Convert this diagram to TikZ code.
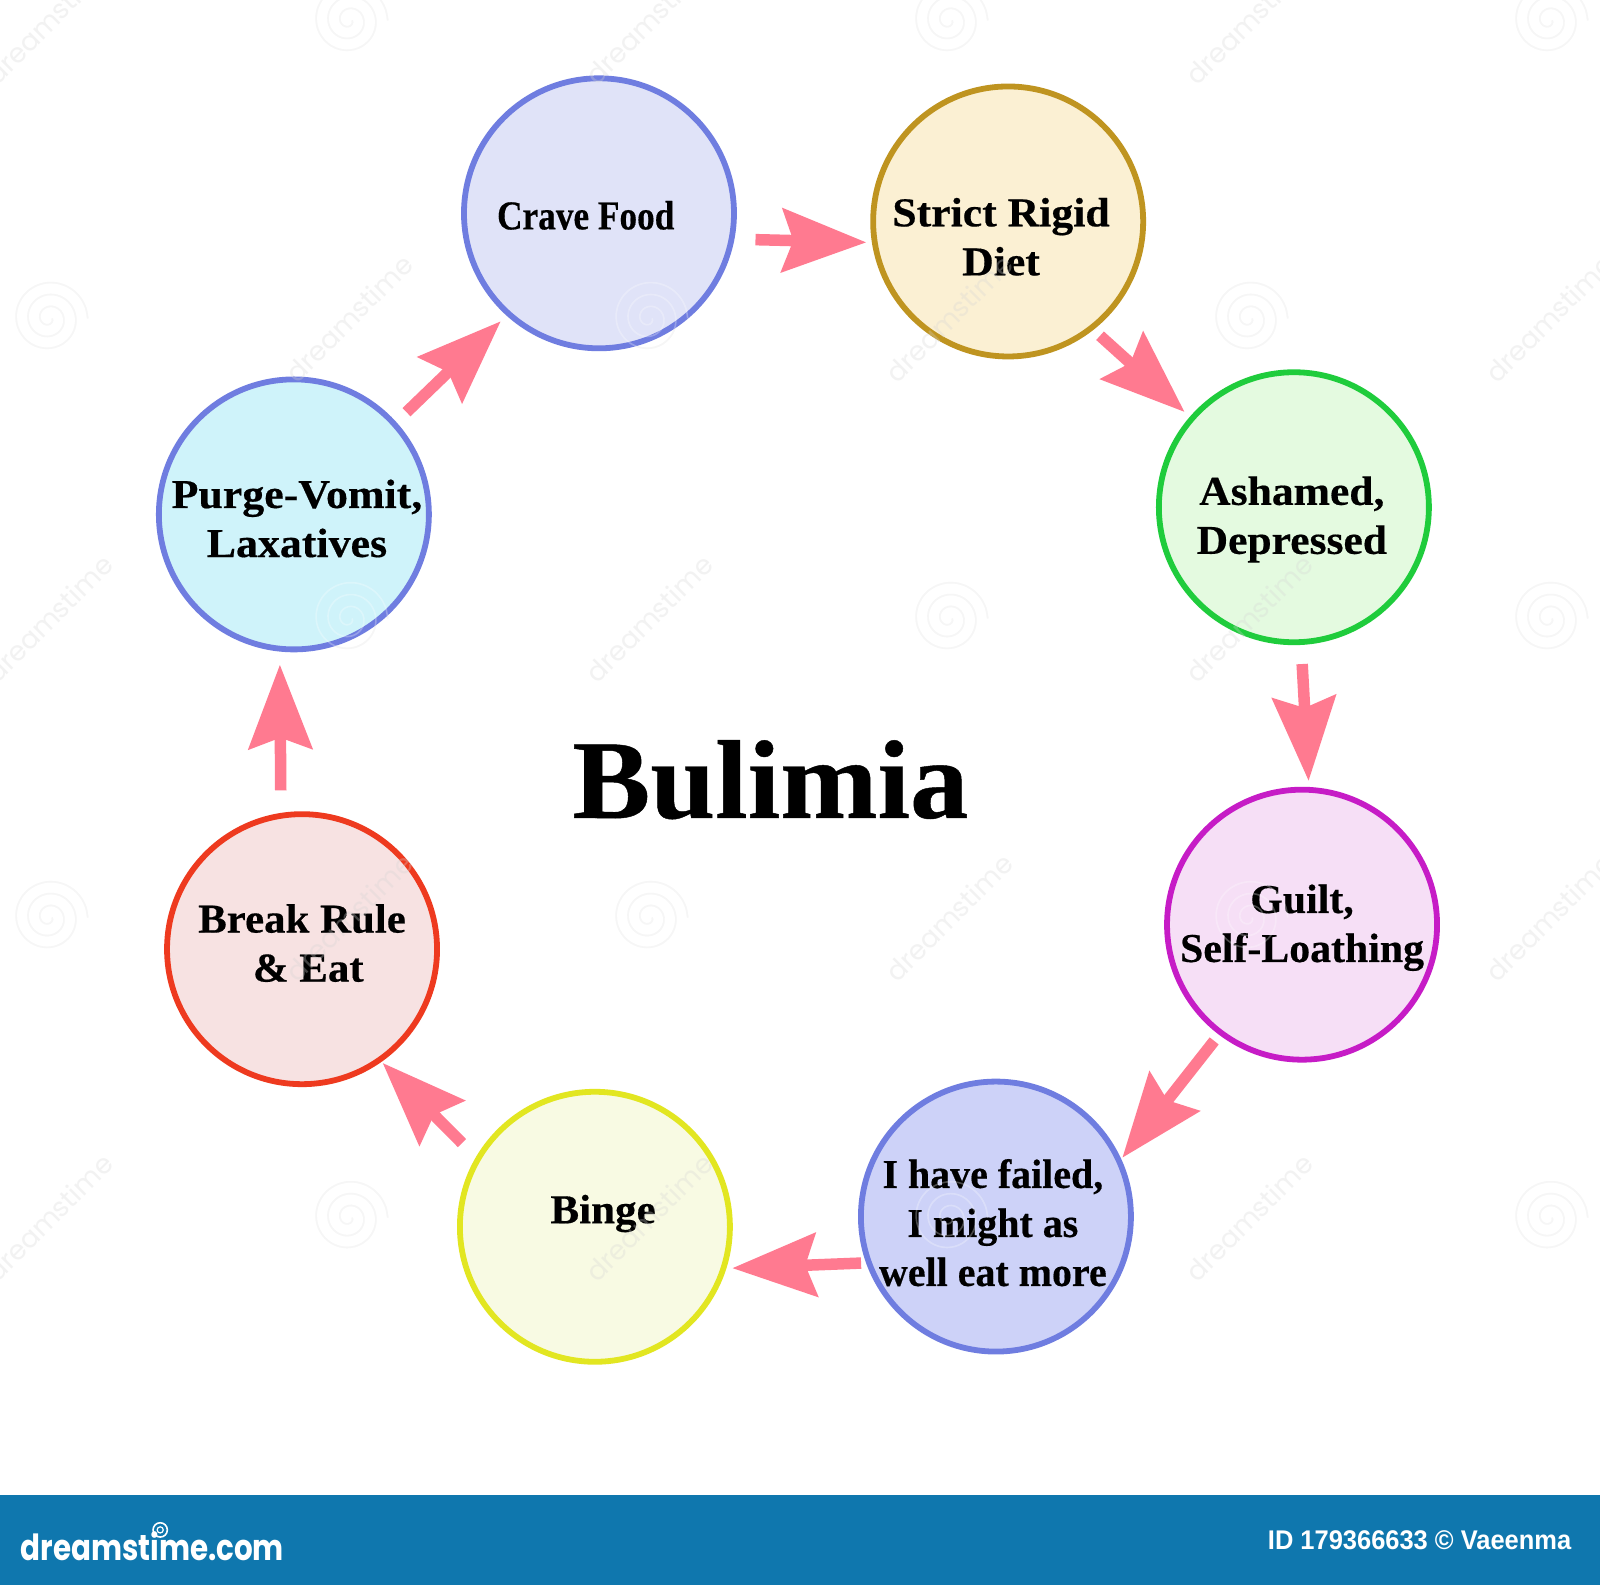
\documentclass[tikz,border=0pt]{standalone}
\usepackage{fontspec}
\setmainfont[BoldFeatures={FakeBold=0.4}]{Liberation Serif}
\newfontfamily\barfont{Liberation Sans}
\newfontfamily\logofont{Poppins}
\usetikzlibrary{arrows.meta}
\definecolor{flowpink}{HTML}{FF7A90}
\definecolor{barblue}{HTML}{0F77AE}
\definecolor{wmgray}{HTML}{8A8A8A}
\definecolor{wmword}{HTML}{D4D4D4}
\definecolor{edgeblue}{HTML}{6F7DE0}
\definecolor{fillcrave}{HTML}{E0E3F8}
\definecolor{edgestrict}{HTML}{BF9420}
\definecolor{fillstrict}{HTML}{FBF0D3}
\definecolor{edgeashamed}{HTML}{1FCC3C}
\definecolor{fillashamed}{HTML}{E4FAE0}
\definecolor{edgeguilt}{HTML}{C61CC6}
\definecolor{fillguilt}{HTML}{F6DFF6}
\definecolor{fillfailed}{HTML}{CDD2F8}
\definecolor{edgebinge}{HTML}{E2E621}
\definecolor{fillbinge}{HTML}{F8FAE3}
\definecolor{edgebreak}{HTML}{EE3A1F}
\definecolor{fillbreak}{HTML}{F7E2E2}
\definecolor{fillpurge}{HTML}{CFF3FA}
\tikzset{
  x=1.0204pt, y=-1.0206pt,
  stage/.style={circle, minimum size=270pt, inner sep=0pt, outer sep=0pt, line width=5.8pt},
  lbl/.style={font=\fontsize{41}{49}\selectfont\bfseries, align=center, inner sep=0pt, text=black, xscale=#1, transform shape},
  flow/.style={draw=flowpink, line width=11.5pt, -{Stealth[length=84pt,width=63pt,inset=11pt,fill=flowpink]}},
}
\newcommand{\flowlink}[6]{\draw[flow, shorten <=#3pt, shorten >=#6pt] (#1.#2) -- (#4.#5);}
% background pattern: spirals and rotated words
\newcommand{\wmspiral}[3]{\draw[#3, opacity=\wmop, line width=1.6pt] plot[smooth, domain=0:1080, samples=70]
   ({#1+(3+\x/1080*35)*cos(\x)}, {#2+(3+\x/1080*35)*sin(\x)});}
\newcommand{\wmtext}[2]{\node[text=wmword, opacity=0.3, rotate=45, inner sep=0pt, font=\fontsize{27}{27}\selectfont\logofont] at (#1,#2) {dreamstime};}
\newcommand{\wmspirals}[1]{%
  \foreach \r/\ya/\yb in {20/0/1, 312/1/0, 606/0/1, 899/1/0, 1193/0/1}{%
    \foreach \c in {48, 636, 1224}{\ifnum\ya=1 \wmspiral{\c}{\r}{#1}\fi}
    \foreach \c in {342, 930, 1518}{\ifnum\yb=1 \wmspiral{\c}{\r}{#1}\fi}
  }}
\newcommand{\wmwords}{%
  \foreach \r/\ya/\yb in {20/0/1, 312/1/0, 606/0/1, 899/1/0, 1193/0/1}{%
    \foreach \c in {48, 636, 1224}{\ifnum\ya=0 \wmtext{\c}{\r}\fi}
    \foreach \c in {342, 930, 1518}{\ifnum\yb=0 \wmtext{\c}{\r}\fi}
  }}
\begin{document}
\begin{tikzpicture}
\useasboundingbox (0,0) rectangle (1568,1553);
\fill[white] (0,0) rectangle (1568,1553);
\def\wmop{0.10}
\wmspirals{wmgray}
% stages
\node[stage, draw=edgeblue,    fill=fillcrave]   (crave)   at (587,209)  {};
\node[stage, draw=edgestrict,  fill=fillstrict]  (strict)  at (988,217)  {};
\node[stage, draw=edgeashamed, fill=fillashamed] (ashamed) at (1268,497) {};
\node[stage, draw=edgeguilt,   fill=fillguilt]   (guilt)   at (1276,906) {};
\node[stage, draw=edgeblue,    fill=fillfailed]  (failed)  at (976,1192) {};
\node[stage, draw=edgebinge,   fill=fillbinge]   (binge)   at (583,1202) {};
\node[stage, draw=edgebreak,   fill=fillbreak]   (break)   at (296,930)  {};
\node[stage, draw=edgeblue,    fill=fillpurge]   (purge)   at (288,504)  {};
% connectors
\flowlink{crave}{-11}{24}{strict}{189.7}{8.5}
\flowlink{strict}{-52.3}{11.8}{ashamed}{139.5}{10}
\flowlink{ashamed}{-87.5}{22}{guilt}{87}{9}
\flowlink{guilt}{233.5}{10.7}{failed}{24.5}{5}
\flowlink{failed}{200}{8}{binge}{-18}{9}
\flowlink{binge}{150}{22.8}{break}{-55.5}{4.5}
\flowlink{break}{99.5}{25.5}{purge}{-96}{16}
\flowlink{purge}{42.6}{17.1}{crave}{228.1}{11}
% labels
\node[lbl=0.86]  (tcrave)   at (574,211)  {Crave Food};
\node[lbl=1.066] (tstrict)  at (981,232)  {Strict Rigid\\Diet};
\node[lbl=1.063] (tashamed) at (1266,509) {Ashamed,\\Depressed};
\node[lbl=1.02]  (tguilt)   at (1276,909) {Guilt,\\Self-Loathing};
\node[lbl=0.974] (tfailed)  at (973,1198) {I have failed,\\I might as\\well eat more};
\node[lbl=1.05]  (tbinge)   at (591,1189) {Binge};
\node[lbl=1.046] (tbreak)   at (296,924)  {Break Rule\\\hspace*{12pt}\& Eat};
\node[lbl=1.07]  (tpurge)   at (291,508)  {Purge-Vomit,\\Laxatives};
\node[font=\fontsize{112}{112}\selectfont\bfseries, inner sep=0pt, xscale=1.043, transform shape] (title) at (755,764) {Bulimia};
\def\wmop{0.28}
\wmspirals{white}
\wmwords
% footer
\fill[barblue] (0,1465) rectangle (1568,1553);
\node[text=white, inner sep=0pt, anchor=west, font=\fontsize{36}{36}\selectfont\logofont\bfseries, xscale=0.815, transform shape] (logo) at (20,1515) {dreamstime.com};
\draw[white, line width=1.6pt] (157,1499) circle (7);
\draw[white, line width=1.2pt] (157,1499) circle (3);
\node[text=white, inner sep=0pt, anchor=east, font=\fontsize{27}{27}\selectfont\barfont\bfseries, xscale=0.943, transform shape] (credit) at (1540,1509) {ID 179366633 © Vaeenma};
\end{tikzpicture}
\end{document}
